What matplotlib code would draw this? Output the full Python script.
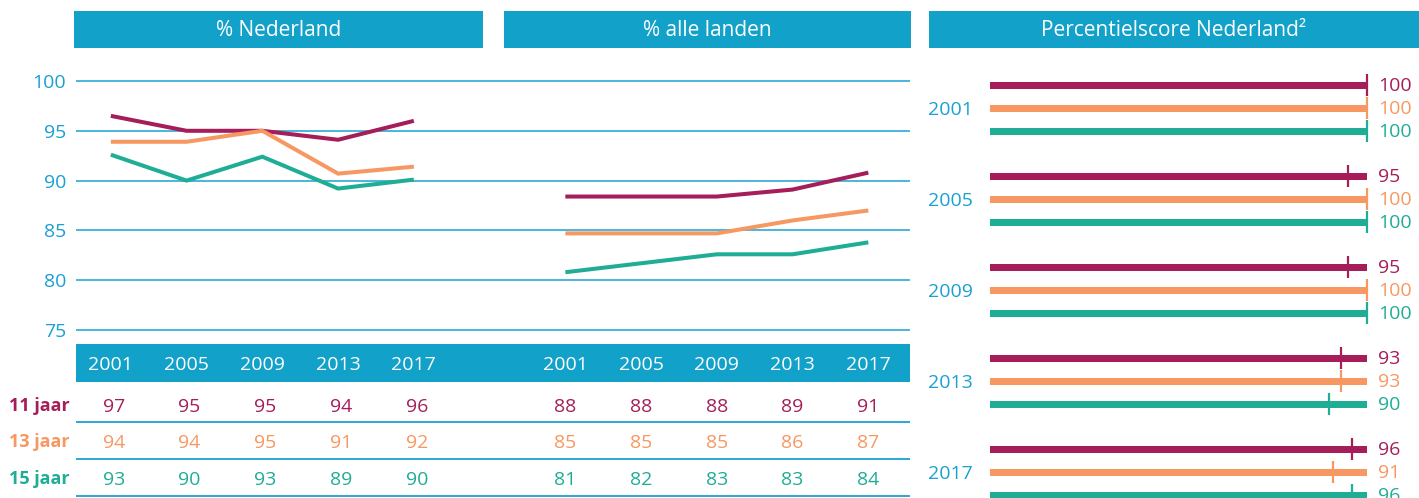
import matplotlib
matplotlib.use("Agg")
import matplotlib.pyplot as plt
from matplotlib.patches import Rectangle

plt.rcParams['font.family'] = ['Open Sans', 'DejaVu Sans']

# ---------------- data ----------------
years = ["2001", "2005", "2009", "2013", "2017"]
groups = ["11 jaar", "13 jaar", "15 jaar"]

# % Nederland (line values, unrounded)
nl_11 = [96.5, 95.0, 95.0, 94.1, 96.0]
nl_13 = [93.9, 93.9, 95.0, 90.7, 91.4]
nl_15 = [92.6, 90.0, 92.4, 89.2, 90.1]
# % alle landen
all_11 = [88.4, 88.4, 88.4, 89.1, 90.8]
all_13 = [84.7, 84.7, 84.7, 86.0, 87.0]
all_15 = [80.8, 81.7, 82.6, 82.6, 83.8]

# table values (rounded)
tab_nl = {"11 jaar": [97, 95, 95, 94, 96],
          "13 jaar": [94, 94, 95, 91, 92],
          "15 jaar": [93, 90, 93, 89, 90]}
tab_all = {"11 jaar": [88, 88, 88, 89, 91],
           "13 jaar": [85, 85, 85, 86, 87],
           "15 jaar": [81, 82, 83, 83, 84]}

# percentile score Nederland (per year: 11, 13, 15 jaar)
perc = {"2001": [100, 100, 100],
        "2005": [95, 100, 100],
        "2009": [95, 100, 100],
        "2013": [93, 93, 90],
        "2017": [96, 91, 96]}

yticks = [75, 80, 85, 90, 95, 100]
headers = ["% Nederland", "% alle landen", "Percentielscore Nederland\u00b2"]

# ---------------- styling ----------------
PURPLE = "#a51e5a"
ORANGE = "#f79862"
TEAL = "#20ad96"
BLUE = "#11a1c9"
TXTBLUE = "#1aa0d2"
colors = [PURPLE, ORANGE, TEAL]

W, H = 1419, 498
fig = plt.figure(figsize=(W / 100, H / 100), dpi=100)


def box(x0, y0, x1, y1):
    return [x0 / W, 1 - y1 / H, (x1 - x0) / W, (y1 - y0) / H]


FS = 14
DY = 2  # small downward shift for digit text

# background / header axes (pixel coordinates)
bg = fig.add_axes([0, 0, 1, 1])
bg.set_xlim(0, W)
bg.set_ylim(H, 0)
bg.axis("off")
header_boxes = [(74, 483), (504, 911), (929, 1419)]
for (x0, x1), t in zip(header_boxes, headers):
    bg.add_patch(Rectangle((x0, 11), x1 - x0, 37, color=BLUE, lw=0))
    bg.text((x0 + x1) / 2, 30, t, color="white", fontsize=15,
            ha="center", va="center")

# x positions for years (left block and right block)
x_left = list(range(5))
x_mid = [i + 6 for i in range(5)]
XMIN, XMAX = -0.46, 10.55

# ---------------- line chart ----------------
px_per_unit = 9.96
ax = fig.add_axes(box(76, 81 - px_per_unit, 910, 330 + px_per_unit))
ax.set_xlim(XMIN, XMAX)
ax.set_ylim(74, 101)
for s in ax.spines.values():
    s.set_visible(False)
ax.set_xticks([])
ax.set_yticks(yticks)
ax.set_yticklabels([str(v) for v in yticks], color=TXTBLUE, fontsize=FS)
ax.tick_params(axis="y", length=0, pad=7)
for v in yticks:
    ax.axhline(v, color=TXTBLUE, lw=1.1, zorder=1)

for vals, c in zip([nl_11, nl_13, nl_15], colors):
    ax.plot(x_left, vals, color=c, lw=2.9, solid_capstyle="butt",
            solid_joinstyle="miter", zorder=3)
for vals, c in zip([all_11, all_13, all_15], colors):
    ax.plot(x_mid, vals, color=c, lw=2.9, solid_capstyle="butt",
            solid_joinstyle="miter", zorder=3)

# ---------------- table ----------------
at = fig.add_axes(box(76, 344, 910, 498))
at.set_xlim(XMIN, XMAX)
at.set_ylim(498, 344)
at.axis("off")
at.add_patch(Rectangle((XMIN, 344), XMAX - XMIN, 38, color=BLUE, lw=0))
for xs in (x_left, x_mid):
    for x, y in zip(xs, years):
        at.text(x, 363 + DY, y, color="white", fontsize=FS, ha="center", va="center")
row_y = [405, 441, 478]
sep_y = [422, 459, 496]
for g, c, ry, sy in zip(groups, colors, row_y, sep_y):
    at.text(-0.54, ry + 1, g, color=c, fontsize=13, fontweight="bold",
            ha="right", va="center", clip_on=False)
    for x, v in zip(x_left, tab_nl[g]):
        at.text(x + 0.04, ry + DY, str(v), color=c, fontsize=FS, ha="center", va="center")
    for x, v in zip(x_mid, tab_all[g]):
        at.text(x, ry + DY, str(v), color=c, fontsize=FS, ha="center", va="center")
    at.axhline(sy, color=TXTBLUE, lw=1.3)

# ---------------- percentile panel ----------------
ap = fig.add_axes(box(990, 60, 1367, 498))
ap.set_xlim(0, 100)
ap.set_ylim(498, 60)
ap.axis("off")
px_x = 377 / 100.0
for gi, yr in enumerate(years):
    base = 85 + gi * 91
    ys = [base + k * 23 for k in range(3)]
    ap.text(-62 / px_x, ys[1] + DY, yr, color=TXTBLUE, fontsize=FS,
            ha="left", va="center", clip_on=False)
    for k, (y, v, c) in enumerate(zip(ys, perc[yr], colors)):
        ap.barh(y, 100, height=7, left=0, color=c, lw=0, clip_on=False)
        ap.vlines(v, y - 11, y + 11, color=c, lw=1.6, clip_on=False)
        ap.text(100 + 11 / px_x, y + 1, str(v), color=c, fontsize=FS,
                ha="left", va="center", clip_on=False)

fig.savefig("out.png", dpi=100)
